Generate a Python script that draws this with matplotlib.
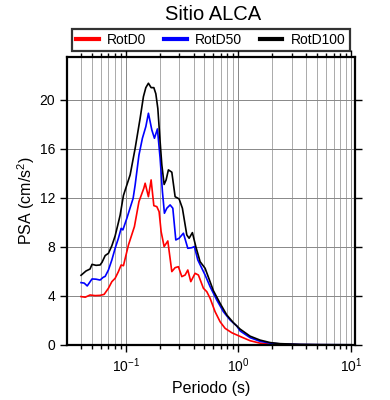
import matplotlib
matplotlib.use("Agg")
import matplotlib.pyplot as plt
from matplotlib.ticker import LogLocator, FixedLocator, NullFormatter

plt.rcParams["font.family"] = ["Liberation Sans", "DejaVu Sans"]
plt.rcParams["mathtext.fontset"] = "custom"
plt.rcParams["mathtext.rm"] = "Liberation Sans"
plt.rcParams["mathtext.it"] = "Liberation Sans:italic"

title = "Sitio ALCA"
xlabel = "Periodo (s)"
ylabel = "PSA (cm/s$^2$)"
series_names = ["RotD0", "RotD50", "RotD100"]
series_colors = ["#ff0000", "#0000ff", "#000000"]

t_d100 = [0.0401, 0.0444, 0.0482, 0.0502, 0.0545, 0.0592, 0.0616, 0.0657, 0.0702, 0.0753,
          0.0805, 0.0861, 0.0892, 0.0954, 0.1023, 0.1094, 0.1212, 0.1342, 0.1436, 0.1508,
          0.1590, 0.1680, 0.1776, 0.1850, 0.1927, 0.2019, 0.2091, 0.2192, 0.2283, 0.2392,
          0.2565, 0.2744, 0.2977, 0.3184, 0.3484, 0.3652, 0.3906, 0.4188, 0.4572, 0.5065,
          0.600, 0.688, 0.789, 0.903, 1.035, 1.27, 1.557, 1.911, 2.344, 3.53, 5.31, 10.0]
psa_d100 = [5.69, 6.04, 6.20, 6.58, 6.50, 6.53, 6.75, 7.30, 7.48, 8.10,
            8.90, 10.0, 10.6, 12.2, 13.06, 13.88, 16.05, 18.5, 20.27, 21.0,
            21.36, 21.0, 21.0, 20.5, 19.3, 16.6, 14.7, 13.1, 13.47, 14.29,
            14.1, 12.1, 11.92, 11.16, 8.98, 8.71, 9.17, 8.03, 6.80, 6.26,
            4.43, 3.40, 2.45, 1.82, 1.30, 0.72, 0.40, 0.20, 0.11, 0.05, 0.03, 0.02]

t_d50 = [0.0401, 0.0428, 0.0455, 0.0502, 0.0545, 0.0592, 0.0630, 0.0657, 0.0702, 0.0753,
         0.0805, 0.0861, 0.0910, 0.0943, 0.1023, 0.1163, 0.1212, 0.1310, 0.1406, 0.1508,
         0.1590, 0.1704, 0.1798, 0.1911, 0.2019, 0.2117, 0.2205, 0.2316, 0.2477, 0.2618,
         0.2783, 0.2977, 0.3251, 0.3556, 0.3860, 0.4070, 0.4362, 0.5065, 0.561, 0.643,
         0.736, 0.844, 0.968, 1.035, 1.27, 1.557, 1.911, 2.344, 3.53, 5.31, 10.0]
psa_d50 = [5.09, 5.05, 4.82, 5.39, 5.37, 5.30, 5.52, 5.60, 6.12, 6.94,
           7.89, 8.71, 9.52, 9.39, 10.34, 11.97, 13.06, 15.5, 16.87, 17.82,
           18.91, 17.55, 16.87, 17.63, 15.24, 12.51, 10.75, 11.16, 11.43, 11.16,
           8.57, 8.71, 9.12, 7.89, 7.94, 8.03, 6.94, 5.71, 4.76, 3.67,
           2.72, 2.04, 1.55, 1.15, 0.60, 0.30, 0.15, 0.09, 0.04, 0.025, 0.015]

t_d0 = [0.0401, 0.0437, 0.0482, 0.0535, 0.0592, 0.0643, 0.0702, 0.0753, 0.0805, 0.0861,
        0.0910, 0.0954, 0.1057, 0.1194, 0.1310, 0.1447, 0.1487, 0.1590, 0.1680, 0.1776,
        0.1888, 0.1978, 0.2061, 0.2192, 0.2363, 0.2565, 0.2744, 0.2935, 0.3146, 0.3366,
        0.3556, 0.3780, 0.4128, 0.4416, 0.4892, 0.5243, 0.561, 0.621, 0.688, 0.762,
        0.874, 1.035, 1.27, 1.557, 1.911, 3.53, 10.0]
psa_d0 = [3.95, 3.90, 4.08, 4.03, 4.05, 4.13, 4.63, 5.17, 5.44, 5.99,
          6.53, 6.47, 8.16, 9.66, 11.7, 12.79, 13.2, 12.1, 13.47, 11.37,
          11.29, 10.88, 9.25, 8.03, 8.49, 5.99, 6.31, 6.39, 5.58, 5.71,
          6.12, 5.17, 5.85, 5.71, 4.63, 4.35, 3.81, 2.72, 1.90, 1.36,
          1.00, 0.70, 0.35, 0.15, 0.07, 0.02, 0.01]

y_ticks = [0, 4, 8, 12, 16, 20]

fig = plt.figure(figsize=(3.9, 4.0), dpi=100)
ax = fig.add_axes([0.1718, 0.1375, 0.7385, 0.72])

for t, v, name, c in zip([t_d0, t_d50, t_d100], [psa_d0, psa_d50, psa_d100],
                         series_names, series_colors):
    ax.plot(t, v, color=c, lw=1.2, label=name)

ax.set_xscale("log")
ax.set_xlim(0.0301, 10.85)
ax.set_ylim(0, 23.5)
ax.xaxis.set_major_locator(LogLocator(base=10, numticks=10))
ax.xaxis.set_minor_locator(LogLocator(base=10, subs=range(2, 10), numticks=20))
ax.xaxis.set_minor_formatter(NullFormatter())
ax.yaxis.set_major_locator(FixedLocator(y_ticks))

ax.grid(True, which="major", axis="both", color="#888888", lw=0.7)
ax.grid(True, which="minor", axis="x", color="#aaaaaa", lw=0.7)
ax.set_axisbelow(True)

ax.tick_params(which="both", direction="out", top=True, right=True, width=1.0)
ax.tick_params(which="major", length=5, labelsize=10)
ax.tick_params(which="minor", length=3)
for s in ax.spines.values():
    s.set_linewidth(1.6)

ax.set_xlabel(xlabel, fontsize=11.5, labelpad=4)
ax.set_ylabel(ylabel, fontsize=11.5, labelpad=2)
fig.suptitle(title, x=0.546, y=0.988, fontsize=14.5)

leg = ax.legend(loc="lower center", bbox_to_anchor=(0.5, 1.02), ncol=3,
                frameon=True, fancybox=False, edgecolor="black", fontsize=10,
                handlelength=1.6, handletextpad=0.6, columnspacing=1.3,
                borderpad=0.3, borderaxespad=0.0)
leg.get_frame().set_linewidth(1.6)
for h in leg.legend_handles:
    h.set_linewidth(3)

fig.savefig("out.png", dpi=100)
